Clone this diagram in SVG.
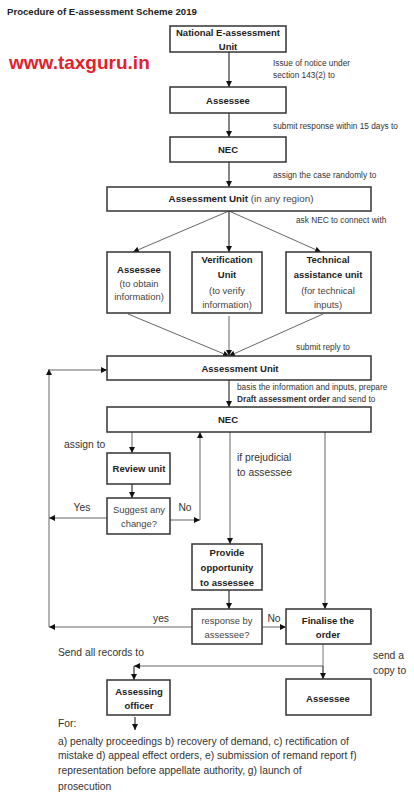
<svg xmlns="http://www.w3.org/2000/svg" width="414" height="794" viewBox="0 0 414 794">
<defs>
<marker id="ah" viewBox="0 0 10 10" refX="10" refY="5" markerWidth="6" markerHeight="6" markerUnits="userSpaceOnUse" orient="auto"><path d="M0,0 L10,5 L0,10 z" fill="#111"/></marker>
</defs>
<style>
text{font-family:"Liberation Sans",Arial,sans-serif;fill:#222}
.box{fill:#fff;stroke:#333;stroke-width:1.5}
.b{font-weight:bold;font-size:9.5px}
.n{font-size:9.4px;fill:#444}
.lb{font-size:8.3px;fill:#333}
.lm{font-size:10.3px;fill:#333}
.c{stroke:#222;stroke-width:1.1;fill:none;marker-end:url(#ah)}
.g{stroke:#666;stroke-width:1;fill:none;marker-end:url(#ah)}
.gl{stroke:#777;stroke-width:1;fill:none}
.m{text-anchor:middle}
</style>
<rect width="414" height="794" fill="#fff"/>
<text x="7" y="15" style="font-weight:bold;font-size:9.6px;fill:#222">Procedure of E-assessment Scheme 2019</text>
<text x="9" y="69" style="font-weight:bold;font-size:19px;fill:#e3202b">www.taxguru.in</text>

<g id="connectors">
<line class="c" x1="229" y1="52" x2="229" y2="87"/>
<line class="c" x1="229" y1="113" x2="229" y2="137"/>
<line class="c" x1="229" y1="162" x2="229" y2="187"/>
<line class="g" x1="229" y1="211" x2="133" y2="252"/>
<line class="c" x1="229" y1="211" x2="229" y2="252"/>
<line class="g" x1="229" y1="211" x2="321" y2="252"/>
<line class="g" x1="128" y1="314" x2="229" y2="356"/>
<line class="g" x1="229" y1="316" x2="229" y2="356"/>
<line class="g" x1="323" y1="314" x2="229" y2="356"/>
<line class="c" x1="229" y1="380" x2="229" y2="407"/>
<line class="g" x1="132" y1="432" x2="132" y2="453"/>
<line class="g" x1="200" y1="520" x2="200" y2="432"/>
<line class="g" x1="230" y1="432" x2="230" y2="544"/>
<line class="g" x1="325" y1="432" x2="325" y2="609"/>
<line class="c" x1="132" y1="484" x2="132" y2="498"/>
<line class="g" x1="107" y1="518" x2="49" y2="518"/>
<line class="g" x1="170" y1="520" x2="200" y2="520"/>
<line class="g" x1="49" y1="627" x2="49" y2="369"/>
<line class="g" x1="49" y1="370" x2="107" y2="370"/>
<line class="c" x1="229" y1="590" x2="229" y2="609"/>
<line class="g" x1="192" y1="627" x2="49" y2="627"/>
<line class="g" x1="262" y1="627" x2="286" y2="627"/>
<line class="gl" x1="323" y1="644" x2="323" y2="666"/>
<line class="g" x1="323" y1="666" x2="134" y2="666"/>
<line class="c" x1="134" y1="666" x2="134" y2="680"/>
<line class="c" x1="323" y1="666" x2="323" y2="679"/>
<line class="c" x1="135" y1="717" x2="135" y2="730"/>
</g>

<g id="labels">
<text class="lb" x="273" y="66">Issue of notice under</text>
<text class="lb" x="273" y="78">section 143(2) to</text>
<text class="lb" x="273" y="129">submit response within 15 days to</text>
<text class="lb" x="273" y="178">assign the case randomly to</text>
<text class="lb" x="296" y="223">ask NEC to connect with</text>
<text class="lb" x="296" y="350">submit reply to</text>
<text class="lb" x="237" y="390">basis the information and inputs, prepare</text>
<text class="lb" x="237" y="402"><tspan font-weight="bold">Draft assessment order</tspan> and send to</text>
<text class="lm" x="177" y="427">or</text>
<text class="lm" x="64" y="448">assign to</text>
<text class="lm" x="237" y="461">if prejudicial</text>
<text class="lm" x="237" y="476">to assessee</text>
<text class="lm m" x="82" y="511">Yes</text>
<text class="lm m" x="185" y="511">No</text>
<text class="lm m" x="161" y="622">yes</text>
<text class="lm m" x="274" y="622">No</text>
<text class="lm" x="58" y="656">Send all records to</text>
<text class="lm" x="373" y="659">send a</text>
<text class="lm" x="373" y="674">copy to</text>
<text class="lm" x="58" y="727">For:</text>
<text class="lm" x="58" y="745">a) penalty proceedings b) recovery of demand, c) rectification of</text>
<text class="lm" x="58" y="759">mistake d) appeal effect orders, e) submission of remand report f)</text>
<text class="lm" x="58" y="774">representation before appellate authority, g) launch of</text>
<text class="lm" x="58" y="790">prosecution</text>
</g>

<g id="n-neau"><rect class="box" x="170" y="26" width="116" height="26"/><text class="b m" x="228" y="36">National E-assessment</text><text class="b m" x="228" y="50">Unit</text></g>
<g id="n-assessee1"><rect class="box" x="170" y="87" width="116" height="26"/><text class="b m" x="228" y="104">Assessee</text></g>
<g id="n-nec1"><rect class="box" x="170" y="137" width="116" height="25"/><text class="b m" x="228" y="153">NEC</text></g>
<g id="n-au1"><rect class="box" x="107" y="187" width="264" height="24"/><text class="m" x="241" y="202" style="font-size:9.8px"><tspan font-weight="bold">Assessment Unit</tspan><tspan fill="#444"> (in any region)</tspan></text></g>
<g id="n-assessee2"><rect class="box" x="107" y="252" width="63" height="61"/><text class="b m" x="139" y="273">Assessee</text><text class="n m" x="139" y="287">(to obtain</text><text class="n m" x="139" y="300">information)</text></g>
<g id="n-verif"><rect class="box" x="192" y="252" width="70" height="61"/><text class="b m" x="227" y="263">Verification</text><text class="b m" x="227" y="278">Unit</text><text class="n m" x="227" y="294">(to verify</text><text class="n m" x="227" y="308">information)</text></g>
<g id="n-tech"><rect class="box" x="286" y="252" width="85" height="61"/><text class="b m" x="328" y="263">Technical</text><text class="b m" x="328" y="278">assistance unit</text><text class="n m" x="328" y="294">(for technical</text><text class="n m" x="328" y="308">inputs)</text></g>
<g id="n-au2"><rect class="box" x="107" y="356" width="264" height="24"/><text class="b m" x="240" y="372">Assessment Unit</text></g>
<g id="n-nec2"><rect class="box" x="107" y="407" width="264" height="25"/><text class="b m" x="228" y="423">NEC</text></g>
<g id="n-review"><rect class="box" x="107" y="453" width="63" height="31"/><text class="b m" x="139" y="472">Review unit</text></g>
<g id="n-suggest"><rect class="box" x="107" y="498" width="63" height="36"/><text class="n m" x="139" y="513">Suggest any</text><text class="n m" x="139" y="527">change?</text></g>
<g id="n-provide"><rect class="box" x="192" y="544" width="70" height="46"/><text class="b m" x="227" y="556">Provide</text><text class="b m" x="227" y="571">opportunity</text><text class="b m" x="227" y="586">to assessee</text></g>
<g id="n-response"><rect class="box" x="192" y="609" width="70" height="35"/><text class="n m" x="227" y="624">response by</text><text class="n m" x="227" y="638">assessee?</text></g>
<g id="n-finalise"><rect class="box" x="286" y="609" width="85" height="35"/><text class="b m" x="328" y="624">Finalise the</text><text class="b m" x="328" y="638">order</text></g>
<g id="n-ao"><rect class="box" x="107" y="680" width="63" height="35"/><text class="b m" x="139" y="695">Assessing</text><text class="b m" x="139" y="709">officer</text></g>
<g id="n-assessee3"><rect class="box" x="286" y="679" width="85" height="36"/><text class="b m" x="328" y="702">Assessee</text></g>
</svg>
